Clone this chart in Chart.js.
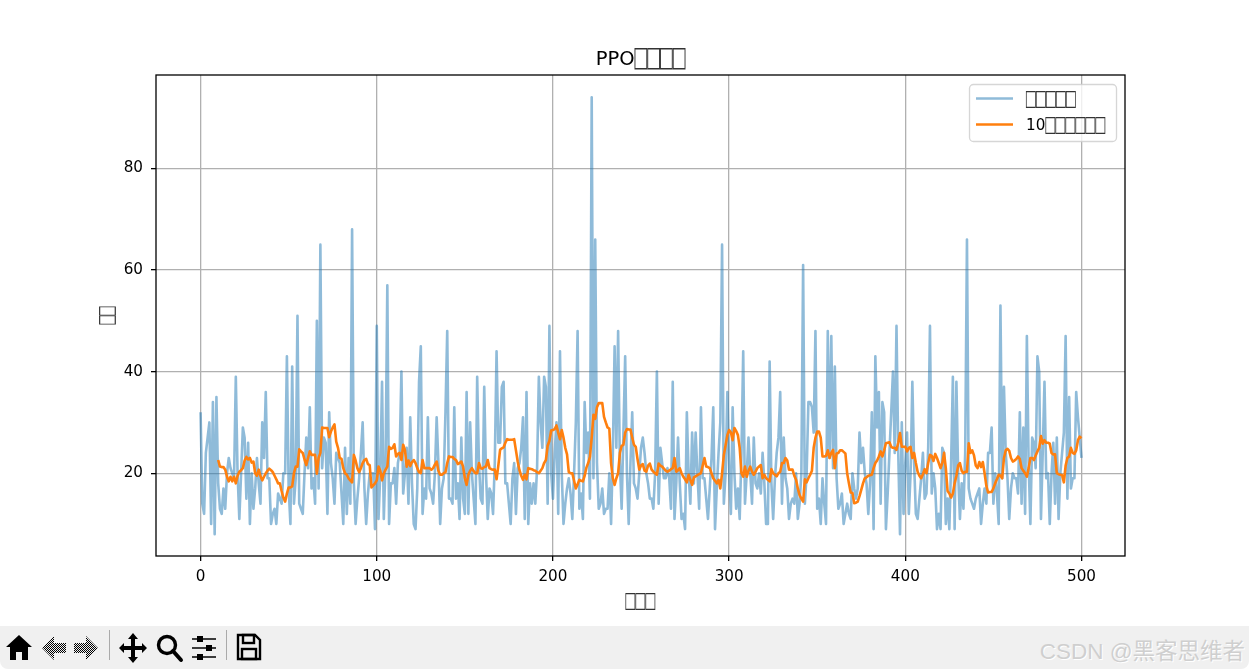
<!DOCTYPE html>
<html>
<head>
<meta charset="utf-8">
<title>PPO</title>
<script src="https://cdn.jsdelivr.net/npm/chart.js@4"></script>
<style>
  html, body { margin: 0; padding: 0; background: #fff; overflow: hidden; }
  #plot { display: block; position: absolute; left: 0; top: 0; }
  #toolbar { position: absolute; left: 0; top: 626px; width: 1249px; height: 43px; background: #f0f0f0; border-radius: 0 0 8px 8px; }
  #toolbar svg { position: absolute; left: 0; top: 0; }
  #mark { position: absolute; right: 4px; top: 7px; font: 22.5px "Liberation Sans", "Noto Sans CJK SC", sans-serif; color: #cfcfcf; text-shadow: 1px 1px 0 #fff; white-space: nowrap; }
</style>
</head>
<body>
<canvas id="plot" width="1249" height="626"></canvas>
<div id="toolbar">
  <svg width="300" height="43" viewBox="0 0 300 43">
    <defs>
      <pattern id="dither" width="2" height="2" patternUnits="userSpaceOnUse">
        <rect width="1" height="1" fill="#000"/><rect x="1" y="1" width="1" height="1" fill="#000"/>
      </pattern>
    </defs>
    <path d="M19 9 L32 21 L28 21 L28 34 L22 34 L22 26 L16 26 L16 34 L10 34 L10 21 L6 21 Z" fill="#000"/>
    <path d="M54 10 L42 22 L54 34 L54 27 L66 27 L66 17 L54 17 Z" fill="url(#dither)"/>
    <path d="M86 10 L98 22 L86 34 L86 27 L74 27 L74 17 L86 17 Z" fill="url(#dither)"/>
    <rect x="109" y="12" width="1" height="30" fill="#aaa" transform="translate(0,-8)"/>
    <path d="M133 7 L138 13 L135 13 L135 20 L142 20 L142 17 L147 22 L142 27 L142 24 L135 24 L135 31 L138 31 L133 37 L128 31 L131 31 L131 24 L124 24 L124 27 L119 22 L124 17 L124 20 L131 20 L131 13 L128 13 Z" fill="#000"/>
    <circle cx="167" cy="19" r="8.5" fill="none" stroke="#000" stroke-width="3.4"/>
    <path d="M173 25 L181 34" stroke="#000" stroke-width="4" stroke-linecap="round"/>
    <path d="M192 13 H216 M192 22 H216 M192 31 H216" stroke="#000" stroke-width="1.6"/>
    <rect x="197" y="10" width="6" height="6" fill="#000"/><rect x="206" y="19" width="6" height="6" fill="#000"/><rect x="197" y="28" width="6" height="6" fill="#000"/>
    <rect x="226" y="4" width="1" height="30" fill="#aaa"/>
    <path d="M238 9 H255 L260 14 V33 H238 Z" fill="none" stroke="#000" stroke-width="2.4"/>
    <rect x="243" y="9" width="11" height="8" fill="none" stroke="#000" stroke-width="2.4"/>
    <rect x="242" y="23" width="14" height="10" fill="none" stroke="#000" stroke-width="2.4"/>
  </svg>
  <div id="mark">CSDN @黑客思维者</div>
</div>
<script>
// values, one per episode
const rawRewards = [
  32,14,12,24,27,30,10,34,8,35,
  18,13,12,17,13,20,23,21,20,19,
  39,20,11,20,29,27,15,26,10,20,
  13,17,23,18,14,30,23,36,19,19,
  10,12,13,10,16,15,14,20,20,43,
  17,10,41,14,19,51,14,13,12,20,
  27,21,33,17,19,14,50,17,65,21,
  27,26,12,32,22,19,14,24,23,22,
  16,10,25,12,23,14,68,18,10,15,
  19,24,30,17,10,16,20,20,20,9,
  49,11,20,38,11,22,57,10,18,18,
  21,14,22,24,40,16,20,25,14,31,
  18,10,9,17,38,45,12,17,15,31,
  17,16,14,20,31,22,10,17,19,32,
  48,15,15,14,33,15,18,11,27,15,
  12,36,12,30,20,15,10,39,22,15,
  14,37,20,11,17,16,12,22,44,26,
  26,37,38,18,18,14,10,19,22,12,
  21,22,25,31,11,36,10,18,14,18,
  14,21,39,30,25,39,37,14,49,20,
  15,24,30,12,44,20,10,14,17,19,
  16,11,20,30,48,13,16,11,34,24,
  28,15,94,19,66,22,13,14,17,12,
  13,13,20,10,24,45,25,48,22,13,
  28,43,20,10,22,32,18,17,15,20,
  25,27,24,20,18,15,15,13,20,40,
  14,25,22,19,19,21,19,13,38,11,
  18,27,18,11,12,9,32,20,14,28,
  18,28,20,13,33,19,19,15,11,17,
  23,33,9,17,24,30,65,14,20,36,
  21,12,33,20,13,17,11,24,44,14,
  20,27,20,14,27,18,17,20,16,24,
  18,10,10,42,18,11,19,24,27,36,
  14,27,19,17,11,14,15,14,20,11,
  14,20,61,14,20,34,34,33,28,48,
  13,15,10,19,14,10,48,23,47,21,
  41,19,13,14,16,10,12,14,12,11,
  20,17,15,17,28,22,25,20,18,12,
  18,32,9,43,29,36,14,34,32,9,
  16,24,32,40,24,49,24,8,30,12,
  22,28,12,20,38,22,12,11,15,19,
  24,15,16,25,49,16,20,17,9,12,
  9,25,24,10,15,9,22,39,9,38,
  20,11,18,13,24,66,17,15,14,13,
  15,16,17,10,14,17,14,24,24,29,
  14,20,16,10,53,19,37,24,19,11,
  17,20,19,19,16,32,14,29,12,47,
  22,10,27,26,21,43,40,11,24,38,
  19,20,10,20,26,14,27,11,20,24,
  28,47,15,35,17,19,19,36,31,27,
  23
];

// orange curve, starts at episode 10
const avgStart = 10;
const avgRewards = [
  22.6,21.3,21.2,21.2,20.7,19.3,18.4,19.3,18.4,19.3,
  18.0,19.5,20.3,20.6,21.0,22.5,23.2,22.7,23.0,22.1,
  22.3,20.0,19.5,20.7,19.4,18.6,19.3,20.0,20.5,20.9,
  20.6,20.2,19.5,18.8,18.0,18.0,16.5,15.2,14.4,16.0,
  17.2,17.2,17.4,20.0,21.3,21.3,24.7,24.3,24.0,22.7,
  21.6,23.0,24.3,23.6,23.6,23.6,19.9,23.0,24.0,29.0,
  28.9,28.9,28.9,27.1,28.2,29.0,29.6,26.2,25.0,23.0,
  22.8,21.0,20.0,19.7,19.0,18.6,18.2,23.6,22.5,21.0,
  20.2,21.0,22.0,22.6,22.8,21.8,21.6,17.2,17.6,18.0,
  18.6,21.3,20.5,18.6,20.0,20.7,21.3,25.2,24.8,25.0,
  25.7,23.3,23.8,24.0,22.6,25.6,24.6,21.3,22.5,21.4,
  22.2,22.6,22.0,21.0,20.2,20.0,22.6,21.0,21.0,21.0,
  21.0,20.7,21.0,21.7,22.3,20.5,19.7,19.7,20.0,20.2,
  22.0,23.3,23.2,23.2,22.8,22.6,21.8,22.0,22.3,21.3,
  19.0,17.7,19.7,20.5,21.0,20.4,20.0,20.0,22.0,21.0,
  20.9,21.2,21.3,22.6,21.0,20.8,20.7,20.7,18.8,21.5,
  24.6,24.9,25.1,26.0,26.7,26.6,26.6,26.6,26.7,24.5,
  22.3,20.6,19.5,18.7,19.7,18.8,21.0,20.9,20.8,20.6,
  20.5,20.2,20.0,20.5,21.0,22.0,22.6,25.4,26.4,28.4,
  28.5,28.7,29.4,28.0,26.7,28.5,27.0,25.0,23.7,20.2,
  20.0,20.0,18.5,17.0,17.8,18.7,18.5,18.4,19.5,21.1,
  22.0,23.2,27.0,31.5,30.7,33.0,33.8,33.8,33.8,31.1,
  30.0,29.0,28.8,22.0,19.0,17.7,19.0,20.0,24.0,25.4,
  25.6,28.0,28.7,28.6,28.6,27.0,25.6,25.2,22.8,20.7,
  21.5,21.8,20.5,20.3,21.5,21.9,20.7,20.3,20.0,19.7,
  21.9,21.5,21.3,20.9,20.5,20.3,20.5,20.8,21.0,23.0,
  20.3,20.6,21.0,20.0,19.3,18.8,18.2,19.7,18.7,17.7,
  19.2,19.4,19.6,19.8,20.0,21.5,23.0,21.3,21.2,21.0,
  20.0,19.0,18.5,18.0,18.7,17.0,20.0,23.6,25.5,27.5,
  28.5,28.0,26.5,28.9,28.3,27.5,25.0,20.0,19.3,21.3,
  19.3,20.5,21.3,20.3,19.7,20.3,21.0,21.3,21.6,19.0,
  19.7,19.0,18.7,18.4,20.8,20.0,19.7,19.4,20.0,20.3,
  22.0,22.0,23.0,22.5,20.7,20.7,20.7,19.5,18.7,17.0,
  15.7,15.0,14.4,18.8,18.2,19.0,19.7,20.5,25.0,27.0,
  28.2,28.2,27.0,23.3,23.3,23.4,24.5,23.0,24.0,24.6,
  21.0,23.9,24.0,24.5,24.5,24.2,23.9,20.0,18.0,16.2,
  16.1,14.1,14.2,14.4,15.5,16.7,18.0,19.0,19.2,19.5,
  19.6,19.7,21.0,22.0,22.5,23.3,24.3,23.3,24.5,25.9,
  26.0,26.1,25.2,25.0,25.0,24.6,26.0,27.9,25.2,25.2,
  25.2,24.3,25.0,25.2,23.0,24.0,22.0,20.3,19.5,19.0,
  19.8,20.8,20.0,22.0,23.6,23.4,22.4,23.8,23.0,22.0,
  21.0,22.0,24.0,21.0,16.5,16.0,15.2,16.0,18.0,19.5,
  21.5,22.0,20.5,20.0,20.3,20.3,25.9,24.0,24.5,23.5,
  21.5,21.0,22.2,21.2,22.2,20.0,17.5,16.2,16.3,16.3,
  17.0,18.0,18.8,19.7,19.5,19.0,23.0,24.5,24.8,24.4,
  23.0,22.3,22.5,22.8,23.3,22.8,21.0,20.5,20.0,19.3,
  21.0,23.0,23.0,22.6,23.5,24.3,25.0,27.3,25.8,26.5,
  26.0,26.0,25.8,24.0,23.7,23.7,20.0,19.8,19.7,19.6,
  18.2,21.5,23.0,23.3,25.0,24.0,23.8,24.5,26.5,27.2,
  26.9
];

const xTicks = [0, 100, 200, 300, 400, 500];
const yTicks = [20, 40, 60, 80];
const titleText = 'PPO□□□□';
const xLabel = '□□□';
const yLabel = '□□';
const rawLabel = '□□□□□';
const avgLabel = '10□□□□□□';

const blue = 'rgba(31,119,180,0.5)';
const orange = '#ff7f0e';
const baseFont = '"DejaVu Sans"';
const lineW = 2.6;

function textWidth(ctx, text, size, boxW) {
  let w = 0;
  ctx.font = size + 'px ' + baseFont;
  for (const ch of text) {
    w += ch === '□' ? boxW : ctx.measureText(ch).width;
  }
  return w;
}

// the missing-glyph boxes are tall and sit close together, so stretch each square
function drawMixed(ctx, text, x, y, size, boxW) {
  ctx.textBaseline = 'alphabetic';
  ctx.textAlign = 'left';
  for (const ch of text) {
    if (ch === '□') {
      const fs = boxW * 0.85 / 0.65;
      const stretch = size * 0.93 / (0.65 * fs);
      ctx.fillStyle = '#333';
      ctx.font = fs + 'px ' + baseFont;
      const w = ctx.measureText(ch).width;
      ctx.save();
      ctx.translate(x + (boxW - w) / 2, y + size * 0.22 - 0.124 * fs * stretch);
      ctx.scale(1, stretch);
      ctx.fillText(ch, 0, 0);
      ctx.restore();
      x += boxW;
    } else {
      ctx.fillStyle = '#000';
      ctx.font = size + 'px ' + baseFont;
      ctx.fillText(ch, x, y);
      x += ctx.measureText(ch).width;
    }
  }
}

const labelsPlugin = {
  id: 'figureText',
  afterDraw(chart) {
    const ctx = chart.ctx;
    const a = chart.chartArea;
    ctx.save();

    // axes frame
    ctx.strokeStyle = '#000';
    ctx.lineWidth = 1.3;
    ctx.strokeRect(a.left, a.top, a.right - a.left, a.bottom - a.top);

    // title and axis labels
    let w = textWidth(ctx, titleText, 19.5, 12.7);
    drawMixed(ctx, titleText, (a.left + a.right) / 2 - w / 2, 65, 19.5, 12.7);
    w = textWidth(ctx, xLabel, 15.2, 10);
    drawMixed(ctx, xLabel, (a.left + a.right) / 2 - w / 2, 606, 15.2, 10);
    ctx.save();
    ctx.translate(112, (a.top + a.bottom) / 2);
    ctx.rotate(-Math.PI / 2);
    w = textWidth(ctx, yLabel, 15.2, 9);
    drawMixed(ctx, yLabel, -w / 2, 0, 15.2, 9);
    ctx.restore();

    // legend box
    ctx.beginPath();
    ctx.roundRect(969.5, 84.5, 147, 57, 4);
    ctx.fillStyle = 'rgba(255,255,255,0.8)';
    ctx.fill();
    ctx.strokeStyle = 'rgba(204,204,204,0.8)';
    ctx.lineWidth = 1.3;
    ctx.stroke();

    ctx.lineWidth = lineW;
    ctx.strokeStyle = blue;
    ctx.beginPath(); ctx.moveTo(976, 98.5); ctx.lineTo(1013, 98.5); ctx.stroke();
    ctx.strokeStyle = orange;
    ctx.beginPath(); ctx.moveTo(976, 124.5); ctx.lineTo(1013, 124.5); ctx.stroke();
    drawMixed(ctx, rawLabel, 1026, 104, 15.2, 10);
    drawMixed(ctx, avgLabel, 1026, 130, 15.2, 10);

    ctx.restore();
  }
};

new Chart(document.getElementById('plot').getContext('2d'), {
  type: 'line',
  data: {
    datasets: [
      {
        label: rawLabel,
        data: rawRewards.map((v, i) => ({ x: i, y: v })),
        borderColor: blue,
        borderWidth: lineW,
        pointRadius: 0,
        tension: 0,
        borderJoinStyle: 'round',
        order: 2
      },
      {
        label: avgLabel,
        data: avgRewards.map((v, i) => ({ x: i + avgStart, y: v })),
        borderColor: orange,
        borderWidth: lineW,
        pointRadius: 0,
        tension: 0,
        borderJoinStyle: 'round',
        order: 1
      }
    ]
  },
  options: {
    responsive: false,
    animation: false,
    layout: { padding: { left: 0, right: 124, top: 75, bottom: 0 } },
    plugins: { legend: { display: false }, title: { display: false }, tooltip: { enabled: false } },
    scales: {
      x: {
        type: 'linear',
        min: -25.3,
        max: 524.7,
        afterFit: scale => { scale.height = 70; },
        afterBuildTicks: scale => { scale.ticks = xTicks.map(v => ({ value: v })); },
        grid: { color: '#b0b0b0', lineWidth: 1.3, tickColor: '#000', tickLength: 5 },
        border: { display: false },
        ticks: { color: '#000', font: { family: baseFont, size: 15.2 }, padding: 7, maxRotation: 0 }
      },
      y: {
        min: 3.7,
        max: 98.4,
        afterFit: scale => { scale.width = 156; },
        afterBuildTicks: scale => { scale.ticks = yTicks.map(v => ({ value: v })); },
        grid: { color: '#b0b0b0', lineWidth: 1.3, tickColor: '#000', tickLength: 5 },
        border: { display: false },
        ticks: { color: '#000', font: { family: baseFont, size: 15.2 }, padding: 8 }
      }
    }
  },
  plugins: [labelsPlugin]
});
</script>
</body>
</html>
